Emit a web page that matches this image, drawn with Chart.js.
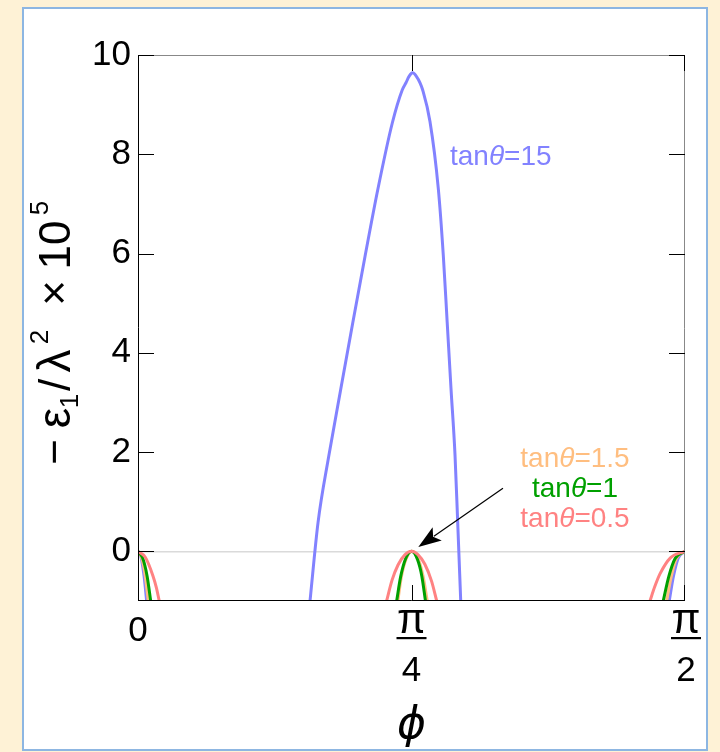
<!DOCTYPE html>
<html>
<head>
<meta charset="utf-8">
<script src="https://cdn.jsdelivr.net/npm/chart.js@4/dist/chart.umd.min.js"></script>
<style>
  html, body { margin: 0; padding: 0; background: #FEF2D6; }
  #panel { position: absolute; left: 22px; top: 7px; width: 682px; height: 740px;
           background: #fff; border: 2px solid #8DB6E2; }
  #wrap { position: absolute; left: 0; top: 0; width: 720px; height: 752px; }
</style>
</head>
<body>
<div id="panel"></div>
<div id="wrap"><canvas id="c" width="720" height="752"></canvas></div>
<script>
// φ in degrees (axis labelled in multiples of π), value = −ε1/λ² × 10^5
// each series is a list of curve pieces; pieces are separated by gaps
const seriesNames = ['tanθ=0.5', 'tanθ=1', 'tanθ=1.5', 'tanθ=15'];
const seriesColors = ['#FF8282', '#00A000', '#FFBE80', '#8282FF'];

const red05 = [
  [[0, 0], [1.2, -0.12], [2.45, -0.49], [3.0, -0.72], [3.5, -1]],
  [[40.9, -1], [41.8, -0.58], [42.8, -0.27], [43.9, -0.07], [45, 0], [46.1, -0.07], [47.2, -0.26], [48.3, -0.6], [49.15, -1]],
  [[84.24, -1], [85.0, -0.72], [85.9, -0.45], [87.6, -0.13], [90, 0]]
];
const green1 = [
  [[0, 0], [0.75, -0.13], [1.5, -0.5], [2.09, -1]],
  [[42.56, -1], [43.2, -0.52], [44.0, -0.16], [45, 0], [46.0, -0.17], [46.7, -0.5], [47.3, -1]],
  [[86.42, -1], [87.35, -0.5], [88.4, -0.14], [90, 0]]
];
const orange15 = [
  [[0, 0], [0.6, -0.13], [1.2, -0.5], [1.69, -1]],
  [[42.75, -1], [43.35, -0.5], [44.15, -0.14], [45.1, 0], [46.1, -0.15], [46.9, -0.5], [47.6, -1]],
  [[86.97, -1], [87.75, -0.5], [88.6, -0.14], [90, 0]]
];
const blue15 = [
  [[0, 0], [0.5, -0.12], [1.0, -0.5], [1.42, -1]],
  [[28.3, -1], [29.62, 0.58], [31.39, 1.92], [33.35, 3.26], [35.33, 4.60], [37.35, 5.94], [39.44, 7.28],
   [41.84, 8.63], [43.49, 9.30], [44.09, 9.44], [44.6, 9.57], [45.2, 9.64], [45.8, 9.57], [46.4, 9.44],
   [46.83, 9.30], [48.04, 8.66], [49.41, 7.31], [50.23, 5.97], [50.87, 4.62], [51.5, 3.28], [52.16, 1.94],
   [52.6, 0.59], [53.1, -1]],
  [[87.4, -1], [88.1, -0.5], [88.9, -0.13], [90, 0]]
];

const xTickValues = [0, 45, 90];
const xTickLabels = [['0'], ['π', '4'], ['π', '2']];
const yTickValues = [0, 2, 4, 6, 8, 10];

// series labels: [text before θ, text after θ], φ, value at the baseline, alignment
const seriesLabels = [
  { parts: ['tan', '=15'], color: '#8282FF', x: 51.33, y: 7.78, align: 'left' },
  { parts: ['tan', '=1.5'], color: '#FFBE80', x: 71.9, y: 1.69, align: 'center' },
  { parts: ['tan', '=1'], color: '#00A000', x: 71.9, y: 1.09, align: 'center' },
  { parts: ['tan', '=0.5'], color: '#FF8282', x: 71.9, y: 0.50, align: 'center' }
];
const arrowFrom = [60.05, 1.27];
const arrowTo = [46.12, 0.087];

function toPoints(pieces) {
  const out = [];
  pieces.forEach((piece, i) => {
    if (i > 0) out.push({ x: piece[0][0], y: null });
    piece.forEach(p => out.push({ x: p[0], y: p[1] }));
  });
  return out;
}

const SANS = '"Liberation Sans", Arial, sans-serif';

const decor = {
  id: 'decor',
  afterDatasetsDraw(chart) {
    const ctx = chart.ctx;
    const xs = chart.scales.x, ys = chart.scales.y;
    const a = chart.chartArea;
    ctx.save();

    // frame: left/bottom black, top/right grey
    ctx.lineWidth = 1;
    ctx.strokeStyle = '#888';
    ctx.beginPath();
    ctx.moveTo(a.left, a.top + 0.5); ctx.lineTo(a.right - 0.5, a.top + 0.5); ctx.lineTo(a.right - 0.5, a.bottom);
    ctx.stroke();
    ctx.strokeStyle = '#000';
    ctx.beginPath();
    ctx.moveTo(a.left + 0.5, a.top); ctx.lineTo(a.left + 0.5, a.bottom - 0.5); ctx.lineTo(a.right, a.bottom - 0.5);
    ctx.stroke();

    // inward ticks
    const TL = 16;
    ctx.strokeStyle = '#000';
    ctx.beginPath();
    yTickValues.forEach(v => {
      const py = Math.round(ys.getPixelForValue(v)) + 0.5;
      ctx.moveTo(a.left, py); ctx.lineTo(a.left + TL, py);
      ctx.moveTo(a.right, py); ctx.lineTo(a.right - TL, py);
    });
    xTickValues.forEach(v => {
      let px = Math.round(xs.getPixelForValue(v)) + 0.5;
      if (v === 90) px -= 1;
      ctx.moveTo(px, a.bottom); ctx.lineTo(px, a.bottom - TL);
      ctx.moveTo(px, a.top); ctx.lineTo(px, a.top + TL);
    });
    ctx.stroke();

    // x tick labels
    ctx.fillStyle = '#000';
    ctx.textAlign = 'center';
    ctx.textBaseline = 'alphabetic';
    xTickValues.forEach((v, i) => {
      const px = xs.getPixelForValue(v) + (v === 90 ? 1 : 0);
      const lab = xTickLabels[i];
      if (lab.length === 1) {
        ctx.font = '35px ' + SANS;
        ctx.fillText(lab[0], px, a.bottom + 40);
      } else {
        ctx.font = '42px ' + SANS;
        ctx.fillText(lab[0], px, a.bottom + 32);
        ctx.fillRect(px - 15, a.bottom + 36, 30, 2.2);
        ctx.font = '35px ' + SANS;
        ctx.fillText(lab[1], px, a.bottom + 80);
      }
    });

    // x axis title
    ctx.font = 'italic 44px "DejaVu Sans", ' + SANS;
    ctx.fillText('ϕ', (a.left + a.right) / 2, 738);

    // y axis title, rotated; each piece centred at its distance along the axis
    ctx.save();
    ctx.translate(70, 465);
    ctx.rotate(-Math.PI / 2);
    ctx.textAlign = 'center';
    const F = 44;
    const pieces = [
      { t: '−', s: 1, dy: -1, at: 13 },
      { t: 'ε', s: 1.05, dy: 0, at: 47 },
      { t: '1', s: 0.6, dy: 8, at: 64 },
      { t: '/', s: 1, dy: 0, at: 80 },
      { t: 'λ', s: 1.05, dy: 0, at: 104 },
      { t: '2', s: 0.6, dy: -22, at: 128 },
      { t: '×', s: 1, dy: -1, at: 172 },
      { t: '10', s: 1, dy: 0, at: 220 },
      { t: '5', s: 0.6, dy: -22, at: 257 }
    ];
    pieces.forEach(p => {
      ctx.font = Math.round(F * p.s) + 'px ' + SANS;
      ctx.fillText(p.t, p.at, p.dy);
    });
    ctx.restore();

    // series labels
    seriesLabels.forEach(l => {
      const fs = 28;
      ctx.font = fs + 'px ' + SANS;
      const w1 = ctx.measureText(l.parts[0]).width;
      const w3 = ctx.measureText(l.parts[1]).width;
      ctx.font = 'italic ' + fs + 'px ' + SANS;
      const w2 = ctx.measureText('θ').width;
      const total = w1 + w2 + w3;
      let px = xs.getPixelForValue(l.x);
      if (l.align === 'center') px -= total / 2;
      const py = ys.getPixelForValue(l.y);
      ctx.fillStyle = l.color;
      ctx.textAlign = 'left';
      ctx.font = fs + 'px ' + SANS;
      ctx.fillText(l.parts[0], px, py);
      ctx.font = 'italic ' + fs + 'px ' + SANS;
      ctx.fillText('θ', px + w1, py);
      ctx.font = fs + 'px ' + SANS;
      ctx.fillText(l.parts[1], px + w1 + w2, py);
    });

    // arrow pointing at the common maximum
    const x0 = xs.getPixelForValue(arrowFrom[0]), y0 = ys.getPixelForValue(arrowFrom[1]);
    const x1 = xs.getPixelForValue(arrowTo[0]), y1 = ys.getPixelForValue(arrowTo[1]);
    const ang = Math.atan2(y1 - y0, x1 - x0);
    const HL = 23, HW = 8;
    const bx = x1 - HL * Math.cos(ang), by = y1 - HL * Math.sin(ang);
    ctx.strokeStyle = '#000';
    ctx.lineWidth = 1.2;
    ctx.beginPath(); ctx.moveTo(x0, y0); ctx.lineTo(bx + 4 * Math.cos(ang), by + 4 * Math.sin(ang)); ctx.stroke();
    const nx = -Math.sin(ang), ny = Math.cos(ang);
    ctx.fillStyle = '#000';
    ctx.beginPath();
    ctx.moveTo(x1, y1);
    ctx.lineTo(bx + HW * nx, by + HW * ny);
    ctx.lineTo(bx + 5 * Math.cos(ang), by + 5 * Math.sin(ang));
    ctx.lineTo(bx - HW * nx, by - HW * ny);
    ctx.closePath();
    ctx.fill();

    ctx.restore();
  }
};

const allSeries = [red05, green1, orange15, blue15];
new Chart(document.getElementById('c'), {
  type: 'line',
  data: {
    datasets: allSeries.map((s, i) => ({
      label: seriesNames[i],
      data: toPoints(s),
      borderColor: seriesColors[i],
      borderWidth: 3,
      pointRadius: 0,
      fill: false,
      spanGaps: false,
      cubicInterpolationMode: 'monotone'
    }))
  },
  options: {
    responsive: false,
    animation: false,
    layout: { padding: { left: 0, right: 35, top: 55, bottom: 0 } },
    plugins: { legend: { display: false }, tooltip: { enabled: false } },
    scales: {
      x: {
        type: 'linear', min: 0, max: 90,
        afterFit(s) { s.height = 151; },
        ticks: { display: false },
        grid: { display: false },
        border: { display: false }
      },
      y: {
        type: 'linear', min: -1, max: 10,
        afterFit(s) { s.width = 138; },
        afterBuildTicks(s) { s.ticks = yTickValues.map(v => ({ value: v })); },
        ticks: { font: { family: SANS, size: 35 }, color: '#000', padding: 7 },
        grid: {
          drawTicks: false,
          color: c => (c.tick && c.tick.value === 0) ? '#DADADA' : 'rgba(0,0,0,0)',
          lineWidth: 1.5
        },
        border: { display: false }
      }
    }
  },
  plugins: [decor]
});
</script>
</body>
</html>
